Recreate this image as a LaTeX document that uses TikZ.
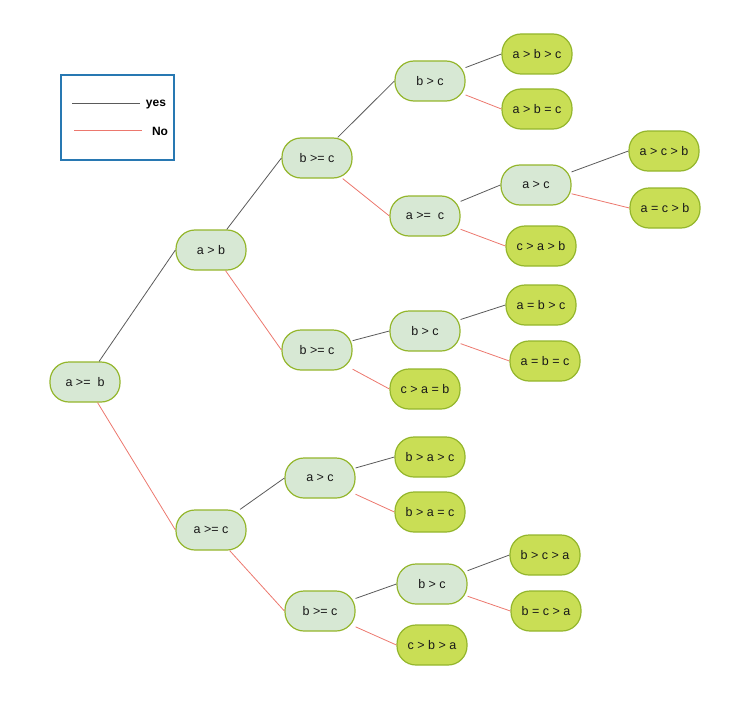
\documentclass[tikz,border=0pt]{standalone}
\usepackage{fontspec}
\setmainfont{Liberation Sans}
\usepackage{tikz}
\usetikzlibrary{arrows.meta, positioning}
\usepackage{xcolor}
\definecolor{testfill}{RGB}{215, 232, 212}
\definecolor{leaffill}{RGB}{201, 222, 85}
\definecolor{olive}{RGB}{148, 182, 44}
\definecolor{yesgray}{RGB}{90, 90, 90}
\definecolor{nored}{RGB}{236, 120, 110}
\definecolor{legblue}{RGB}{40, 120, 178}

\begin{document}
\begin{tikzpicture}[
  x=1pt, y=-1pt,
  test/.style={draw=olive, line width=1.2pt, fill=testfill, minimum width=70pt, minimum height=40pt, rounded corners=19pt, font=\fontsize{12.5}{14}\selectfont, text=black!90},
  leaf/.style={test, fill=leaffill},
  yes/.style={draw=yesgray, line width=0.8pt},
  no/.style={draw=nored, line width=0.8pt}
]
  \useasboundingbox (0,0) rectangle (754,706);

  % Legend
  \node[draw=legblue, line width=1.2pt, minimum width=113pt, minimum height=85pt, inner sep=0] (legend) at (117.5, 117.5) {};
  \coordinate (ya) at (72, 103);
  \coordinate (yb) at (140, 103);
  \coordinate (na) at (74, 130);
  \coordinate (nb) at (142, 130);
  \draw[yes] (ya) -- (yb);
  \draw[no] (na) -- (nb);
  \node[font=\fontsize{12}{14}\selectfont\bfseries] (lyes) at (156, 105) {yes};
  \node[font=\fontsize{12}{14}\selectfont\bfseries] (lno) at (160, 131) {No};

  % Root
  \node[test] (ab) at (85, 382) {a >=\ \ b};

  % Level 1
  \node[test] (a1) at (211, 250) {a > b};
  \node[test] (a2) at (211, 530) {a >= c};

  % Level 2
  \node[test] (b1) at (317, 158) {b >= c};
  \node[test] (b2) at (317, 350) {b >= c};
  \node[test] (b3) at (320, 478) {a > c};
  \node[test] (b4) at (320, 611) {b >= c};

  % Level 3
  \node[test] (c1) at (430, 81) {b > c};
  \node[test] (c2) at (425, 216) {a >=\ \ c};
  \node[test] (c3) at (425, 331) {b > c};
  \node[leaf] (c4) at (425, 389) {c > a = b};
  \node[leaf] (c5) at (430, 457) {b > a > c};
  \node[leaf] (c6) at (430, 512) {b > a = c};
  \node[test] (c7) at (432, 584) {b > c};
  \node[leaf] (c8) at (432, 645) {c > b > a};

  % Level 4
  \node[leaf] (d1) at (537, 54) {a > b > c};
  \node[leaf] (d2) at (537, 109) {a > b = c};
  \node[test] (d3) at (536, 185) {a > c};
  \node[leaf] (d4) at (541, 246) {c > a > b};
  \node[leaf] (d5) at (541, 305) {a = b > c};
  \node[leaf] (d6) at (545, 361) {a = b = c};
  \node[leaf] (d7) at (545, 555) {b > c > a};
  \node[leaf] (d8) at (546, 611) {b = c > a};

  % Level 5
  \node[leaf] (e1) at (664, 151) {a > c > b};
  \node[leaf] (e2) at (665, 208) {a = c > b};

  % Edges
  \draw[yes] (ab) -- (a1.west);
  \draw[no] (ab) -- (a2.west);
  \draw[yes] (a1) -- (b1.west);
  \draw[no] (a1) -- (b2.west);
  \draw[yes] (a2) -- (b3.west);
  \draw[no] (a2) -- (b4.west);
  \draw[yes] (b1) -- (c1.west);
  \draw[no] (b1) -- (c2.west);
  \draw[yes] (b2) -- (c3.west);
  \draw[no] (b2) -- (c4.west);
  \draw[yes] (b3) -- (c5.west);
  \draw[no] (b3) -- (c6.west);
  \draw[yes] (b4) -- (c7.west);
  \draw[no] (b4) -- (c8.west);
  \draw[yes] (c1) -- (d1.west);
  \draw[no] (c1) -- (d2.west);
  \draw[yes] (c2) -- (d3.west);
  \draw[no] (c2) -- (d4.west);
  \draw[yes] (c3) -- (d5.west);
  \draw[no] (c3) -- (d6.west);
  \draw[yes] (c7) -- (d7.west);
  \draw[no] (c7) -- (d8.west);
  \draw[yes] (d3) -- (e1.west);
  \draw[no] (d3) -- (e2.west);
\end{tikzpicture}
\end{document}
